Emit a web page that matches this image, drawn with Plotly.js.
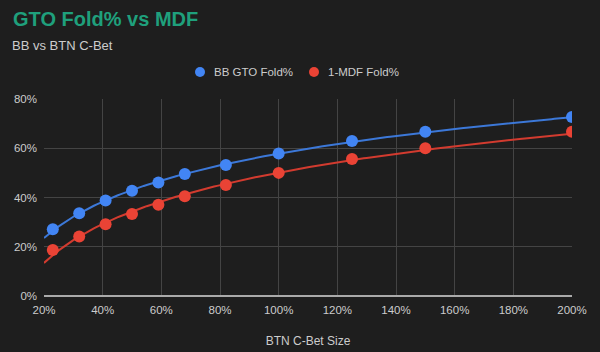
<!DOCTYPE html>
<html>
<head>
<meta charset="utf-8">
<script src="https://cdn.plot.ly/plotly-3.0.1.min.js"></script>
<style>html,body{margin:0;padding:0;background:#1e1e1e;}#chart{width:600px;height:352px;}</style>
</head>
<body>
<div id="chart"></div>
<script>
const betSize = [23, 32, 41, 50, 59, 68, 82, 100, 125, 150, 200];
const gtoFold = [27.1, 33.6, 38.8, 42.7, 46.1, 49.5, 53.2, 57.9, 62.9, 66.7, 72.7];
const mdfFold = [18.7, 24.2, 29.1, 33.3, 37.1, 40.5, 45.1, 50.0, 55.6, 60.0, 66.7];
const seriesNames = ['BB GTO Fold%', '1-MDF Fold%'];

// logarithmic trendline (least squares on ln x), as in the source chart
function logTrend(xs, ys) {
  const lx = xs.map(Math.log);
  const n = xs.length;
  const mx = lx.reduce((a, b) => a + b, 0) / n;
  const my = ys.reduce((a, b) => a + b, 0) / n;
  let sxy = 0, sxx = 0;
  lx.forEach((v, i) => { sxy += (v - mx) * (ys[i] - my); sxx += (v - mx) * (v - mx); });
  const b = sxy / sxx, a = my - b * mx;
  const tx = [], ty = [];
  for (let x = 20; x <= 200; x += 1) { tx.push(x); ty.push(a + b * Math.log(x)); }
  return { x: tx, y: ty };
}

const tBlue = logTrend(betSize, gtoFold);
const tRed = logTrend(betSize, mdfFold);

const blue = '#4285f4', red = '#ea4335';
const data = [
  { x: tBlue.x, y: tBlue.y, mode: 'lines', line: { color: '#3c78d8', width: 2 }, showlegend: false, hoverinfo: 'skip' },
  { x: tRed.x, y: tRed.y, mode: 'lines', line: { color: '#d23b2f', width: 2 }, showlegend: false, hoverinfo: 'skip' },
  { x: betSize, y: gtoFold, name: seriesNames[0], mode: 'markers', marker: { color: blue, size: 12 }, showlegend: false },
  { x: betSize, y: mdfFold, name: seriesNames[1], mode: 'markers', marker: { color: red, size: 12 }, showlegend: false }
];

const txt = '#cccccc';
const legY = 72;
const layout = {
  width: 600, height: 352,
  paper_bgcolor: '#1e1e1e', plot_bgcolor: '#1e1e1e',
  font: { family: 'Liberation Sans, Arial, sans-serif', color: txt, size: 11.5 },
  margin: { l: 44, r: 28, t: 99, b: 56 },
  title: { text: '<b>GTO Fold% vs MDF</b>', font: { size: 20, color: '#1fa07c', family: 'Liberation Sans, Arial, sans-serif' },
    xref: 'container', yref: 'container', x: 13 / 600, xanchor: 'left', y: 1 - 19 / 352, yanchor: 'middle' },
  annotations: [
    { text: 'BB vs BTN C-Bet', xref: 'paper', yref: 'paper', x: -34 / 528, xanchor: 'left',
      y: (296 - 46) / 197, yanchor: 'middle', showarrow: false, font: { size: 13, color: txt } },
    { text: seriesNames[0], xref: 'paper', yref: 'paper', x: (212 - 44) / 528, xanchor: 'left',
      y: (296 - legY) / 197, yanchor: 'middle', showarrow: false, font: { size: 11.5, color: txt } },
    { text: seriesNames[1], xref: 'paper', yref: 'paper', x: (326 - 44) / 528, xanchor: 'left',
      y: (296 - legY) / 197, yanchor: 'middle', showarrow: false, font: { size: 11.5, color: txt } }
  ],
  shapes: [
    { type: 'line', xref: 'paper', yref: 'paper', x0: 0, x1: 1, y0: 0, y1: 0, line: { color: '#aaaaaa', width: 2 } },
    { type: 'circle', xref: 'paper', yref: 'paper', x0: (195 - 44) / 528, x1: (205 - 44) / 528,
      y0: (296 - legY - 5) / 197, y1: (296 - legY + 5) / 197, fillcolor: blue, line: { width: 0 } },
    { type: 'circle', xref: 'paper', yref: 'paper', x0: (309 - 44) / 528, x1: (319 - 44) / 528,
      y0: (296 - legY - 5) / 197, y1: (296 - legY + 5) / 197, fillcolor: red, line: { width: 0 } }
  ],
  xaxis: { range: [20, 200], dtick: 20, tick0: 20, ticksuffix: '%', gridcolor: '#444444', gridwidth: 1,
    zeroline: false, showline: false, ticks: '', ticklabelstandoff: 5,
    title: { text: 'BTN C-Bet Size', font: { size: 12, color: txt }, standoff: 22 } },
  yaxis: { range: [0, 80], dtick: 20, ticksuffix: '%', gridcolor: '#444444', gridwidth: 1,
    zeroline: false, showline: false, ticks: '', ticklabelstandoff: 6 },
  showlegend: false
};

Plotly.newPlot('chart', data, layout, { displayModeBar: false, staticPlot: true });
</script>
</body>
</html>
